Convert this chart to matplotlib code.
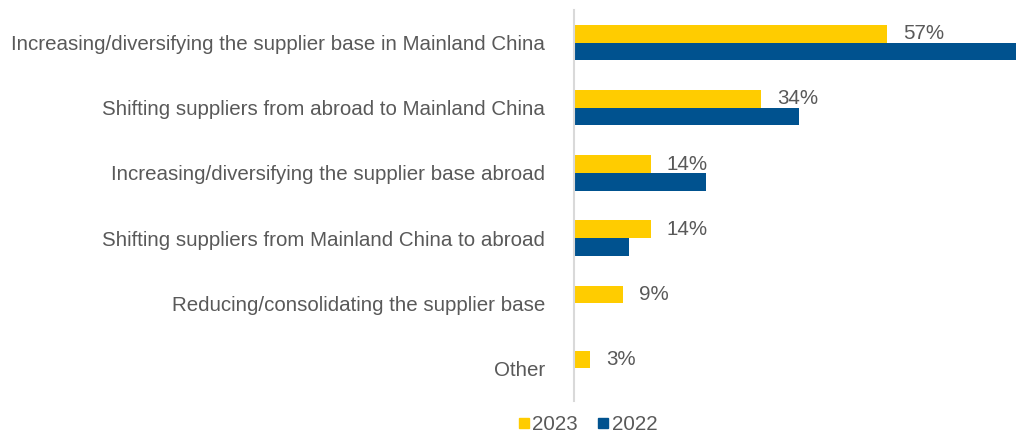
import numpy as np
import matplotlib.pyplot as plt
from matplotlib.lines import Line2D

plt.rcParams['font.family'] = ['Liberation Sans', 'DejaVu Sans']

categories = [
    "Increasing/diversifying the supplier base in Mainland China",
    "Shifting suppliers from abroad to Mainland China",
    "Increasing/diversifying the supplier base abroad",
    "Shifting suppliers from Mainland China to abroad",
    "Reducing/consolidating the supplier base",
    "Other",
]
values_2023 = [57, 34, 14, 14, 9, 3]
values_2022 = [84, 41, 24, 10, 0, 0]
labels_2023 = ["57%", "34%", "14%", "14%", "9%", "3%"]

yellow = "#FFCC00"
blue = "#00528F"
grey = "#595959"
fs = 14.8

W, H = 1016, 434
fig = plt.figure(figsize=(W / 100, H / 100), dpi=100)
ax = fig.add_axes([574 / W, 1 - 401 / H, (W - 574) / W, 391 / H])

y = np.arange(len(categories))
h = 0.27
ax.barh(y - h / 2, values_2023, height=h, color=yellow, label="2023")
ax.barh(y + h / 2, values_2022, height=h, color=blue, label="2022")

for yi, v, lab in zip(y, values_2023, labels_2023):
    ax.text(v + 2.9, yi - h / 2, lab, va="center", ha="left",
            fontsize=fs, color=grey)

ax.set_xlim(0, 80.4)
ax.set_ylim(len(categories) - 0.5, -0.5)
ax.set_yticks(y)
ax.set_yticklabels(categories, fontsize=fs, color=grey)
ax.tick_params(axis="y", length=0, pad=21)
ax.set_xticks([])
for s in ["top", "right", "bottom"]:
    ax.spines[s].set_visible(False)
ax.spines["left"].set_color("#D9D9D9")
ax.spines["left"].set_linewidth(1.5)

handles = [
    Line2D([], [], marker="s", linestyle="none", markersize=6.5,
           markerfacecolor=yellow, markeredgecolor=yellow),
    Line2D([], [], marker="s", linestyle="none", markersize=6.5,
           markerfacecolor=blue, markeredgecolor=blue),
]
fig.legend(handles, ["2023", "2022"], loc="center",
           bbox_to_anchor=(588 / W, 1 - 425 / H), ncol=2, frameon=False,
           fontsize=fs, labelcolor=grey, handlelength=0.5,
           handletextpad=0.15, columnspacing=1.0, borderpad=0)

fig.savefig("out.png", dpi=100)
